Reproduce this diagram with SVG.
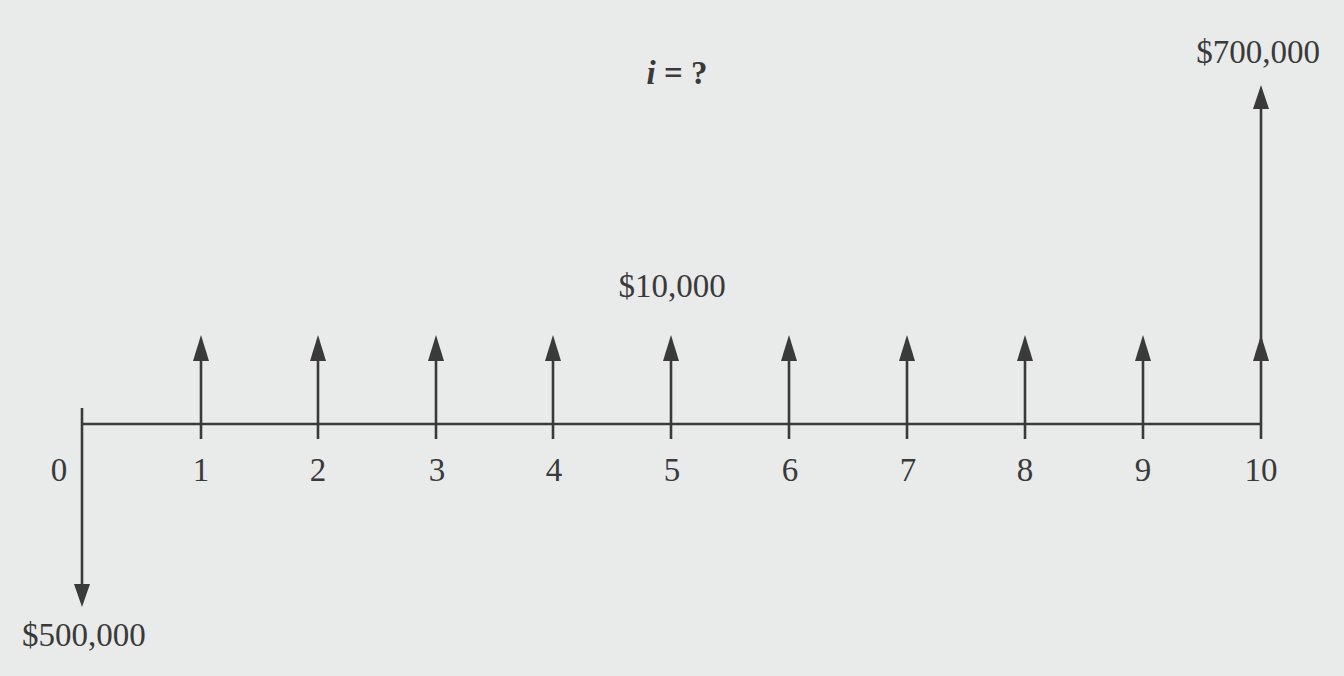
<svg xmlns="http://www.w3.org/2000/svg" width="1344" height="676" viewBox="0 0 1344 676">
<style>
.t{font-family:"Liberation Serif","Times New Roman",serif;font-size:33px;fill:#3a3a3a}
.ln{stroke:#3a3a3a;stroke-width:2.6;fill:none}
.ah{fill:#3a3a3a}
</style>
<rect width="1344" height="676" fill="#e9ebeb"/>
<g id="connectors">
<line class="ln" x1="82" y1="424" x2="1261" y2="424"/>
<line class="ln" x1="82" y1="408" x2="82" y2="590"/>
<polygon class="ah" points="74,584 90,584 82,607"/>
<g id="ticks">
<line class="ln" x1="201" y1="355" x2="201" y2="439"/>
<line class="ln" x1="318" y1="355" x2="318" y2="439"/>
<line class="ln" x1="436" y1="355" x2="436" y2="439"/>
<line class="ln" x1="553" y1="355" x2="553" y2="439"/>
<line class="ln" x1="671" y1="355" x2="671" y2="439"/>
<line class="ln" x1="789" y1="355" x2="789" y2="439"/>
<line class="ln" x1="907" y1="355" x2="907" y2="439"/>
<line class="ln" x1="1025" y1="355" x2="1025" y2="439"/>
<line class="ln" x1="1143" y1="355" x2="1143" y2="439"/>
<line class="ln" x1="1261" y1="104" x2="1261" y2="439"/>
</g>
<g id="heads">
<polygon class="ah" points="193,361 209,361 201,335"/>
<polygon class="ah" points="310,361 326,361 318,335"/>
<polygon class="ah" points="428,361 444,361 436,335"/>
<polygon class="ah" points="545,361 561,361 553,335"/>
<polygon class="ah" points="663,361 679,361 671,335"/>
<polygon class="ah" points="781,361 797,361 789,335"/>
<polygon class="ah" points="899,361 915,361 907,335"/>
<polygon class="ah" points="1017,361 1033,361 1025,335"/>
<polygon class="ah" points="1135,361 1151,361 1143,335"/>
<polygon class="ah" points="1253,361 1269,361 1261,335"/>
<polygon class="ah" points="1253,109 1269,109 1261,85"/>
</g>
</g>
<g id="labels" class="t" text-anchor="middle">
<text x="59" y="481">0</text>
<text x="201" y="481">1</text>
<text x="318" y="481">2</text>
<text x="437" y="481">3</text>
<text x="554" y="481">4</text>
<text x="672" y="481">5</text>
<text x="790" y="481">6</text>
<text x="908" y="481">7</text>
<text x="1025" y="481">8</text>
<text x="1143" y="481">9</text>
<text x="1261" y="481">10</text>
</g>
<g id="amount0"><text class="t" x="22" y="646">$500,000</text></g>
<g id="amount-annual"><text class="t" x="672" y="297" text-anchor="middle">$10,000</text></g>
<g id="amount10"><text class="t" x="1258" y="63" text-anchor="middle">$700,000</text></g>
<g id="rate"><text class="t" x="677" y="84" text-anchor="middle" font-weight="bold"><tspan font-style="italic">i</tspan> = ?</text></g>
</svg>
